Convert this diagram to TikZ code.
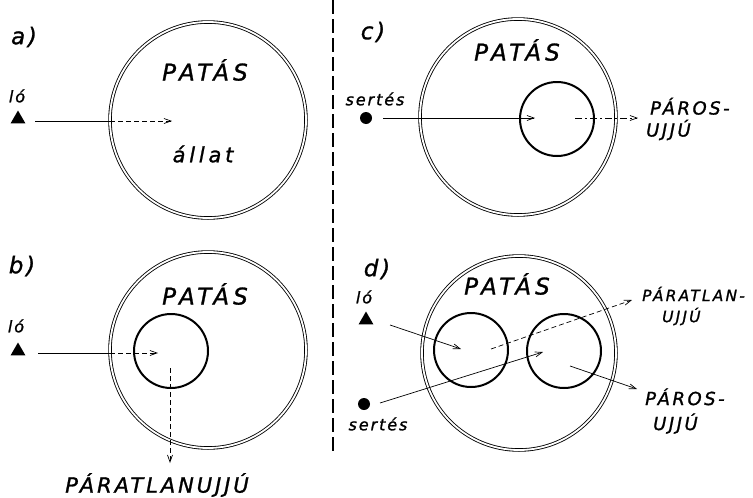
\documentclass[tikz,border=0pt]{standalone}
\usepackage{fontspec}
\usetikzlibrary{shapes.geometric,arrows.meta}
\newfontfamily\labA{DejaVu Sans}[LetterSpace=18,FakeBold=1.2]
\newfontfamily\labB{DejaVu Sans}[LetterSpace=14,FakeBold=1.2]
\newfontfamily\labC{DejaVu Sans}[LetterSpace=12,FakeBold=1.2]
\begin{document}
\begin{tikzpicture}[x=1pt,y=-1pt,
  bigc/.style={circle,draw=black,double=white,double distance=1.8pt,line width=0.85pt,inner sep=0pt},
  smallc/.style={circle,draw=black,line width=2pt,inner sep=0pt,minimum size=74pt},
  tri/.style={regular polygon,regular polygon sides=3,fill=black,inner sep=0pt,minimum size=17pt},
  dotn/.style={circle,fill=black,inner sep=0pt,minimum size=12pt},
  panel/.style={font=\labC\itshape\fontsize{23}{24}\selectfont,inner sep=0pt},
  big/.style={font=\labA\itshape\fontsize{23}{24}\selectfont,inner sep=0pt},
  long/.style={font=\labB\itshape\fontsize{21}{22}\selectfont,inner sep=0pt},
  mid/.style={font=\labB\itshape\fontsize{18}{21}\selectfont,inner sep=0pt,align=left},
  sm/.style={font=\labA\itshape\fontsize{21}{22}\selectfont,inner sep=0pt},
  small/.style={font=\labB\itshape\fontsize{15.5}{18}\selectfont,inner sep=0pt,align=left},
  tiny/.style={font=\labC\itshape\fontsize{16}{18}\selectfont,inner sep=0pt},
  ar/.style={line width=0.7pt,-{Straight Barb[length=7pt,width=5pt]}},
  ln/.style={line width=0.7pt},
  dsh/.style={dash pattern=on 5pt off 3pt}]
\useasboundingbox (0,0) rectangle (753,498);
% divider
\draw[line width=1.4pt,dash pattern=on 14pt off 5pt] (333,0) -- (333,455);
% ---------- a
\node[panel] (la) at (24,37) {a)};
\node[bigc,minimum size=196pt] (A) at (208,120) {};
\node[big] (pa) at (205,70) {PATÁS};
\node[sm] (al) at (203,154) {állat};
\node[tiny] (loa) at (17,96) {ló};
\node[tri] (ta) at (18,119) {};
\coordinate (ea) at (172,121);
\coordinate (ca) at (110,121);
\coordinate (sa) at (35,121);
\draw[ln] (sa) -- (ca);
\draw[ar,dsh] (ca) -- (ea);
% ---------- b
\node[panel] (lb) at (22,266) {b)};
\node[bigc,minimum size=196pt] (B) at (208,350) {};
\node[smallc] (Bi) at (171,351) {};
\node[big] (pb) at (205,294) {PATÁS};
\node[tiny] (lob) at (16,326) {ló};
\node[tri] (tb) at (18,351) {};
\coordinate (sb) at (38,353);
\coordinate (cb) at (110,353);
\coordinate (eb) at (158,353);
\draw[ln] (sb) -- (cb);
\draw[ar,dsh] (cb) -- (eb);
\coordinate (db0) at (170,368);
\coordinate (db1) at (170,463);
\draw[ar,dsh] (db0) -- (db1);
\node[long] (pu) at (157,485) {PÁRATLANUJJÚ};
% ---------- c
\node[panel] (lc) at (373,32) {c)};
\node[bigc,minimum size=196pt] (C) at (518,117) {};
\node[smallc] (Ci) at (557,119) {};
\node[big] (pc) at (517,50) {PATÁS};
\node[tiny] (sc) at (375,99) {sertés};
\node[dotn] (dc) at (366,118) {};
\coordinate (sc0) at (383,118);
\coordinate (ec) at (535,118);
\draw[ar] (sc0) -- (ec);
\coordinate (fc0) at (575,118);
\coordinate (fc1) at (638,118);
\draw[ar,dash pattern=on 7pt off 3pt on 2pt off 3pt] (fc0) -- (fc1);
\node[mid,anchor=west] (poc) at (650,119) {PÁROS-\\[1pt]\hspace*{-4pt}UJJÚ};
% ---------- d
\node[panel] (ld) at (377,269) {d)};
\node[bigc,minimum size=194pt] (D) at (519,353) {};
\node[smallc] (Dl) at (471,350) {};
\node[smallc] (Dr) at (564,351) {};
\node[big] (pd) at (507,284) {PATÁS};
\node[tiny] (lod) at (364,297) {ló};
\node[tri] (td) at (366,320) {};
\coordinate (sd0) at (390,325);
\coordinate (ed0) at (461,349);
\draw[ar] (sd0) -- (ed0);
\coordinate (sd1) at (491,349);
\coordinate (ed1) at (632,300);
\draw[ar,dsh] (sd1) -- (ed1);
\node[dotn] (dd) at (364,404) {};
\node[tiny] (sed) at (378,424) {sertés};
\coordinate (sd2) at (380,403);
\coordinate (ed2) at (543,352);
\draw[ar] (sd2) -- (ed2);
\coordinate (sd3) at (570,366);
\coordinate (ed3) at (637,389);
\draw[ar] (sd3) -- (ed3);
\node[small,anchor=west] (pld) at (642,306) {PÁRATLAN-\\[3pt]\hspace*{20pt}UJJÚ};
\node[mid,anchor=west] (pod) at (645,411) {PÁROS-\\[4pt]\hspace*{8pt}UJJÚ};
\end{tikzpicture}
\end{document}
